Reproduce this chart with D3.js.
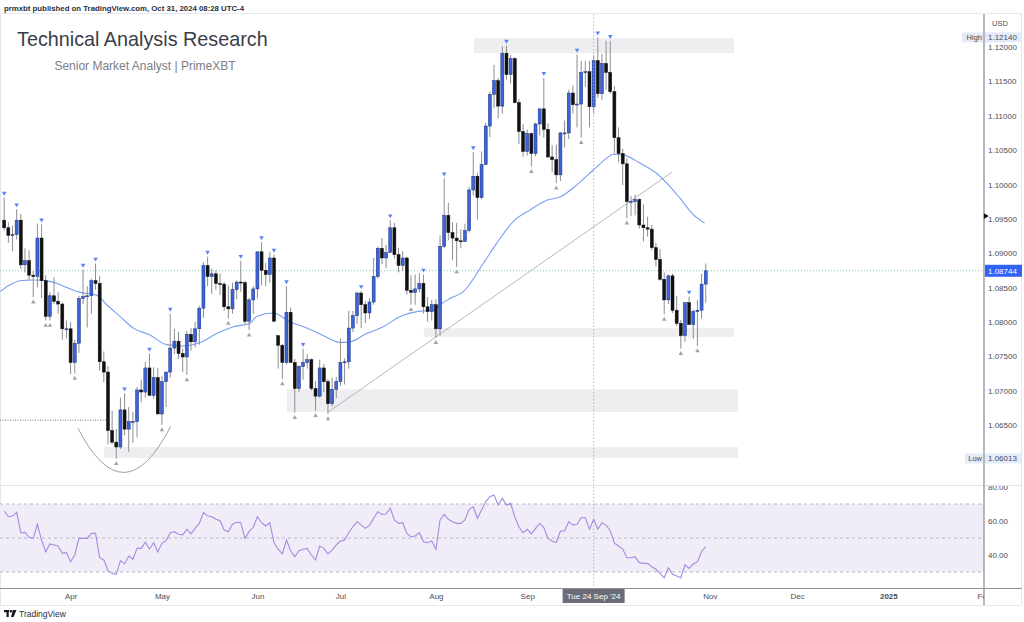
<!DOCTYPE html>
<html>
<head>
<meta charset="utf-8">
<script src="https://cdnjs.cloudflare.com/ajax/libs/d3/7.8.5/d3.min.js"></script>
<style>
  body { margin: 0; background: #fff; }
  svg { display: block; font-family: "Liberation Sans", Arial, sans-serif; }
</style>
</head>
<body>
<svg id="chart"></svg>
<script>
// EURUSD daily, Mar 8 - Oct 31 2024, [open, high, low, close], one row per bar index
const candles = [
  // Mar 8 - Mar 29 (0-15)
  [1.0948,1.0981,1.0933,1.0937],[1.0937,1.0945,1.0915,1.0926],[1.0926,1.0940,1.0903,1.0927],[1.0927,1.0964,1.0920,1.0948],
  [1.0948,1.0957,1.0877,1.0883],[1.0883,1.0907,1.0872,1.0889],[1.0889,1.0904,1.0860,1.0868],[1.0868,1.0874,1.0836,1.0866],
  [1.0866,1.0943,1.0850,1.0922],[1.0922,1.0942,1.0835,1.0860],[1.0860,1.0868,1.0802,1.0808],[1.0808,1.0843,1.0802,1.0838],
  [1.0838,1.0865,1.0826,1.0830],[1.0830,1.0843,1.0812,1.0826],[1.0826,1.0828,1.0774,1.0790],[1.0790,1.0802,1.0776,1.0790],
  // April (16-37)
  [1.0790,1.0800,1.0724,1.0741],[1.0741,1.0774,1.0725,1.0769],[1.0769,1.0838,1.0755,1.0834],[1.0834,1.0876,1.0826,1.0837],
  [1.0837,1.0852,1.0792,1.0838],[1.0838,1.0863,1.0812,1.0860],[1.0860,1.0885,1.0847,1.0856],[1.0856,1.0867,1.0729,1.0742],
  [1.0742,1.0757,1.0712,1.0727],[1.0727,1.0736,1.0622,1.0642],[1.0642,1.0671,1.0622,1.0625],[1.0625,1.0644,1.0601,1.0618],
  [1.0618,1.0690,1.0615,1.0672],[1.0672,1.0696,1.0635,1.0644],[1.0644,1.0676,1.0611,1.0655],[1.0655,1.0669,1.0624,1.0655],
  [1.0655,1.0705,1.0632,1.0701],[1.0701,1.0716,1.0683,1.0698],[1.0698,1.0742,1.0690,1.0733],[1.0733,1.0754,1.0694,1.0693],
  [1.0693,1.0734,1.0688,1.0719],[1.0719,1.0733,1.0666,1.0666],
  // May (38-60)
  [1.0666,1.0721,1.0650,1.0713],[1.0713,1.0728,1.0676,1.0727],[1.0727,1.0812,1.0719,1.0762],[1.0762,1.0790,1.0753,1.0772],
  [1.0772,1.0786,1.0746,1.0754],[1.0754,1.0761,1.0727,1.0749],[1.0749,1.0787,1.0723,1.0782],[1.0782,1.0791,1.0758,1.0771],
  [1.0771,1.0800,1.0763,1.0790],[1.0790,1.0823,1.0767,1.0820],[1.0820,1.0887,1.0806,1.0882],[1.0882,1.0895,1.0852,1.0866],
  [1.0866,1.0878,1.0841,1.0870],[1.0870,1.0875,1.0847,1.0856],[1.0856,1.0870,1.0839,1.0855],[1.0855,1.0858,1.0816,1.0822],
  [1.0822,1.0853,1.0805,1.0819],[1.0819,1.0857,1.0812,1.0847],[1.0847,1.0860,1.0833,1.0858],[1.0858,1.0889,1.0844,1.0857],
  [1.0857,1.0860,1.0797,1.0801],[1.0801,1.0835,1.0788,1.0832],[1.0832,1.0852,1.0812,1.0848],
  // June (61-80)
  [1.0848,1.0902,1.0834,1.0902],[1.0902,1.0916,1.0853,1.0875],[1.0875,1.0886,1.0852,1.0869],[1.0869,1.0902,1.0857,1.0893],
  [1.0893,1.0898,1.0801,1.0801],[1.0780,1.0780,1.0732,1.0766],[1.0766,1.0768,1.0717,1.0741],[1.0741,1.0852,1.0738,1.0814],
  [1.0814,1.0821,1.0743,1.0741],[1.0741,1.0746,1.0668,1.0703],[1.0703,1.0737,1.0698,1.0735],[1.0735,1.0761,1.0716,1.0741],
  [1.0741,1.0753,1.0732,1.0745],[1.0745,1.0747,1.0700,1.0703],[1.0703,1.0714,1.0671,1.0692],[1.0692,1.0745,1.0690,1.0733],
  [1.0733,1.0739,1.0698,1.0713],[1.0713,1.0717,1.0666,1.0681],[1.0681,1.0719,1.0677,1.0702],[1.0702,1.0720,1.0689,1.0713],
  // July (81-103)
  [1.0713,1.0776,1.0707,1.0741],[1.0741,1.0747,1.0709,1.0742],[1.0742,1.0816,1.0732,1.0791],[1.0791,1.0816,1.0785,1.0809],
  [1.0809,1.0844,1.0797,1.0842],[1.0842,1.0845,1.0791,1.0825],[1.0825,1.0830,1.0798,1.0813],[1.0813,1.0835,1.0804,1.0829],
  [1.0829,1.0893,1.0825,1.0866],[1.0866,1.0910,1.0863,1.0907],[1.0907,1.0922,1.0884,1.0893],[1.0893,1.0912,1.0878,1.0901],
  [1.0901,1.0948,1.0900,1.0937],[1.0937,1.0944,1.0892,1.0898],[1.0898,1.0908,1.0872,1.0882],[1.0882,1.0903,1.0874,1.0893],
  [1.0893,1.0895,1.0840,1.0846],[1.0846,1.0868,1.0825,1.0843],[1.0843,1.0869,1.0825,1.0848],[1.0848,1.0871,1.0843,1.0856],
  [1.0856,1.0869,1.0812,1.0822],[1.0822,1.0836,1.0800,1.0815],[1.0815,1.0832,1.0802,1.0825],
  // August (104-125)
  [1.0825,1.0833,1.0777,1.0790],[1.0790,1.0926,1.0780,1.0910],[1.0910,1.1009,1.0907,1.0955],[1.0955,1.0973,1.0919,1.0930],
  [1.0930,1.0945,1.0890,1.0922],[1.0922,1.0944,1.0880,1.0918],[1.0918,1.0935,1.0907,1.0917],[1.0917,1.0943,1.0917,1.0933],
  [1.0933,1.0996,1.0930,1.0992],[1.0992,1.1047,1.0984,1.1012],[1.1012,1.1017,1.0949,1.0981],[1.0981,1.1048,1.0978,1.1029],
  [1.1029,1.1090,1.1028,1.1085],[1.1085,1.1135,1.1069,1.1131],[1.1131,1.1174,1.1111,1.1151],[1.1151,1.1155,1.1096,1.1114],
  [1.1114,1.1201,1.1103,1.1191],[1.1191,1.1202,1.1153,1.1160],[1.1160,1.1188,1.1147,1.1183],[1.1183,1.1185,1.1118,1.1119],
  [1.1119,1.1124,1.1059,1.1077],[1.1077,1.1088,1.1040,1.1048],
  // September (126-146)
  [1.1048,1.1080,1.1042,1.1074],[1.1074,1.1076,1.1026,1.1045],[1.1045,1.1090,1.1041,1.1088],[1.1088,1.1110,1.1071,1.1110],
  [1.1110,1.1155,1.1068,1.1080],[1.1080,1.1089,1.1038,1.1040],[1.1040,1.1057,1.1018,1.1036],[1.1036,1.1058,1.1002,1.1014],
  [1.1014,1.1076,1.1005,1.1075],[1.1075,1.1093,1.1054,1.1075],[1.1075,1.1138,1.1066,1.1133],[1.1133,1.1144,1.1103,1.1116],
  [1.1116,1.1189,1.1083,1.1117],[1.1117,1.1180,1.1068,1.1163],[1.1163,1.1180,1.1142,1.1164],[1.1164,1.1180,1.1083,1.1113],
  [1.1113,1.1188,1.1103,1.1180],[1.1180,1.1214,1.1126,1.1132],[1.1132,1.1190,1.1123,1.1176],[1.1176,1.1209,1.1138,1.1163],
  [1.1163,1.1209,1.1132,1.1135],
  // October (147-169)
  [1.1135,1.1143,1.1045,1.1068],[1.1068,1.1083,1.1032,1.1045],[1.1045,1.1052,1.0999,1.1030],[1.1030,1.1038,1.0951,1.0975],
  [1.0975,1.0983,1.0954,1.0975],[1.0975,1.0985,1.0955,1.0978],[1.0978,1.0980,1.0936,1.0941],[1.0941,1.0971,1.0917,1.0937],
  [1.0937,1.0953,1.0924,1.0935],[1.0935,1.0941,1.0904,1.0908],[1.0908,1.0915,1.0881,1.0891],[1.0891,1.0906,1.0860,1.0862],
  [1.0862,1.0872,1.0811,1.0832],[1.0832,1.0869,1.0826,1.0867],[1.0867,1.0870,1.0813,1.0817],[1.0817,1.0838,1.0794,1.0798],
  [1.0798,1.0803,1.0761,1.0780],[1.0780,1.0828,1.0771,1.0828],[1.0828,1.0837,1.0803,1.0796],[1.0796,1.0818,1.0775,1.0815],
  [1.0815,1.0832,1.0765,1.0817],[1.0817,1.0870,1.0805,1.0855],[1.0855,1.0885,1.0828,1.08744]
];

// pivot markers (bar indices)
const pivotHighs = [0, 3, 9, 19, 22, 29, 35, 40, 49, 57, 62, 65, 68, 72, 86, 93, 101, 106, 113, 121, 130, 138, 143, 146, 165];
const pivotLows = [7, 10, 11, 17, 27, 38, 44, 54, 59, 67, 70, 75, 78, 98, 104, 109, 127, 133, 139, 150, 159, 163, 167];

// moving average: bar index / price
const maIdx = [-1.0, 1.4, 3.8, 6.9, 11.0, 15.1, 18.3, 22.3, 24.7, 27.9, 31.1, 35.1, 39.1, 43.1, 47.2, 51.2, 55.2, 59.2,
  60.8, 64.8, 68.9, 72.9, 76.9, 80.9, 83.3, 87.3, 91.3, 95.4, 99.4, 103.4, 105.0, 107.4, 110.6, 115.4, 118.6, 122.6,
  126.7, 130.7, 134.0, 137.9, 141.9, 145.1, 146.7, 149.1, 153.2, 157.2, 160.4, 162.8, 166.0, 168.7];
const maVal = [1.0844, 1.0854, 1.0860, 1.0861, 1.0859, 1.0850, 1.0843, 1.0839, 1.0825, 1.0808, 1.0791, 1.0781, 1.0767,
  1.0765, 1.0770, 1.0783, 1.0793, 1.0798, 1.0808, 1.0813, 1.0800, 1.0791, 1.0780, 1.0770, 1.0771, 1.0783, 1.0793,
  1.0808, 1.0815, 1.0817, 1.0825, 1.0834, 1.0844, 1.0885, 1.0914, 1.0946, 1.0963, 1.0977, 1.0982, 1.0999, 1.1021,
  1.1038, 1.1044, 1.1043, 1.1031, 1.1016, 1.0997, 1.0980, 1.0956, 1.0944];

// RSI per bar
const rsiVals = [65.9, 62.5, 62.9, 65.1, 53.1, 53.3, 50.4, 49.8, 58.1, 48.8, 41.9, 46.5, 45.9, 45.3, 41.0, 41.4,
  36.1, 40.0, 49.8, 49.8, 49.8, 52.7, 52.7, 38.4, 37.1, 30.8, 29.2, 28.6, 36.7, 34.7, 39.4, 37.5, 43.9, 43.9, 47.5, 43.5,
  47.2, 41.8, 46.9, 48.4, 53.1, 53.7, 52.2, 51.8, 55.1, 52.4, 55.7, 58.6, 65.1, 62.9, 62.5, 61.0, 60.2, 54.7, 53.7, 58.1,
  59.2, 59.0, 49.8, 53.7, 56.3, 62.5, 59.0, 57.1, 59.0, 47.2, 43.4, 40.6, 48.8, 42.5, 39.0, 42.5, 43.4, 43.9, 40.0, 37.1,
  45.3, 43.9, 40.6, 42.9, 45.9, 48.2, 48.8, 53.1, 56.6, 59.6, 57.6, 55.7, 57.6, 61.6, 65.5, 63.9, 64.1, 67.5, 60.6, 58.6,
  59.0, 52.7, 50.8, 51.2, 53.1, 47.8, 47.2, 48.2, 43.4, 60.6, 63.9, 61.0, 59.6, 58.6, 58.6, 60.6, 66.9, 68.4, 61.6, 66.5,
  71.4, 74.3, 75.3, 69.4, 73.4, 69.4, 70.4, 62.5, 56.6, 53.1, 55.1, 52.4, 55.7, 58.6, 56.1, 49.8, 48.2, 47.5, 54.1, 54.1,
  59.6, 57.6, 58.1, 61.9, 61.9, 55.1, 61.0, 55.3, 59.0, 57.6, 54.3, 46.9, 45.3, 43.5, 38.4, 38.4, 39.0, 35.5, 35.1, 35.1,
  33.1, 31.6, 29.2, 26.6, 32.5, 28.6, 27.6, 26.6, 34.1, 32.2, 34.7, 36.1, 41.9, 44.9];

// drawings: zones [fromIdx, toIdx, topPrice, bottomPrice]
const zones = [[113.2, 175.8, 1.1213, 1.1191], [101.1, 175.8, 1.0791, 1.0778], [68.1, 176.8, 1.0702, 1.0669], [24.0, 176.8, 1.0618, 1.0602]];
const trendLine = [[78.1, 1.0669], [160.9, 1.1018]];
const dottedLevel = [[-1.01, 1.0657], [24.8, 1.0657]];
const arcPts = [[17.8, 1.0645], [28.9, 1.0581], [40.1, 1.0648]];

const priceTicks = [1.12, 1.115, 1.11, 1.105, 1.10, 1.095, 1.09, 1.085, 1.08, 1.075, 1.07, 1.065];
const rsiTicks = [40, 60, 80];
const rsiLevels = [70, 50, 30];
// the October label sits under the crosshair date label, so it is not shown
const monthIdx = [16, 38, 61, 81, 104, 126, 170, 191, 213, 236];
const monthLabels = ["Apr", "May", "Jun", "Jul", "Aug", "Sep", "Nov", "Dec", "2025", "Feb"];

const lastPrice = 1.08744, highPrice = 1.12140, lowPrice = 1.06013, maLast = 1.0954;
const crossIdx = 142;

const width = 1024, height = 622;
const axisX = 984;

const svg = d3.select('#chart').attr('width', width).attr('height', height);

const xScale = d3.scaleLinear().domain([0, 236]).range([4.2, 4.2 + 236 * 4.151]);
const yPrice = d3.scaleLinear().domain([1.065, 1.12]).range([425, 47]);
const yRsi = d3.scaleLinear().domain([30, 70]).range([572, 504]);

const defs = svg.append('defs');
defs.append('clipPath').attr('id', 'pricePane').append('rect').attr('x', 0).attr('y', 14).attr('width', axisX).attr('height', 471);
defs.append('clipPath').attr('id', 'rsiPane').append('rect').attr('x', 0).attr('y', 486).attr('width', axisX).attr('height', 102);
defs.append('clipPath').attr('id', 'rsiAxis').append('rect').attr('x', axisX).attr('y', 486).attr('width', 40).attr('height', 102);
defs.append('clipPath').attr('id', 'timeAxis').append('rect').attr('x', 0).attr('y', 588).attr('width', axisX).attr('height', 18);

// header
svg.append('text').attr('x', 4).attr('y', 10.5).attr('font-size', 7.8).attr('font-weight', 600).attr('fill', '#2a2e39')
  .text('prmxbt published on TradingView.com, Oct 31, 2024 08:28 UTC-4');

// frame
svg.append('rect').attr('x', 0.5).attr('y', 13.5).attr('width', 1021).attr('height', 592)
  .attr('fill', 'none').attr('stroke', '#e6e8ee');

// ---------- price pane ----------
const pane = svg.append('g').attr('clip-path', 'url(#pricePane)');

pane.selectAll('.zone').data(zones).enter().append('rect')
  .attr('x', d => xScale(d[0])).attr('width', d => xScale(d[1]) - xScale(d[0]))
  .attr('y', d => yPrice(d[2])).attr('height', d => yPrice(d[3]) - yPrice(d[2]))
  .attr('fill', '#eeeef1');

pane.append('line')
  .attr('x1', xScale(dottedLevel[0][0])).attr('x2', xScale(dottedLevel[1][0]))
  .attr('y1', yPrice(dottedLevel[0][1])).attr('y2', yPrice(dottedLevel[1][1]))
  .attr('stroke', '#555').attr('stroke-width', 0.8).attr('stroke-dasharray', '1,1.5');

// rounded bottom arc
const a0 = [xScale(arcPts[0][0]), yPrice(arcPts[0][1])];
const a1 = [xScale(arcPts[1][0]), yPrice(arcPts[1][1])];
const a2 = [xScale(arcPts[2][0]), yPrice(arcPts[2][1])];
const ctrl = [2 * a1[0] - (a0[0] + a2[0]) / 2, 2 * a1[1] - (a0[1] + a2[1]) / 2];
const arcPath = d3.path();
arcPath.moveTo(a0[0], a0[1]);
arcPath.quadraticCurveTo(ctrl[0], ctrl[1], a2[0], a2[1]);
pane.append('path').attr('d', arcPath.toString()).attr('fill', 'none').attr('stroke', '#85878e').attr('stroke-width', 0.8);

pane.append('line')
  .attr('x1', xScale(trendLine[0][0])).attr('y1', yPrice(trendLine[0][1]))
  .attr('x2', xScale(trendLine[1][0])).attr('y2', yPrice(trendLine[1][1]))
  .attr('stroke', '#a3a5ab').attr('stroke-width', 0.8);

// last price line
pane.append('line').attr('x1', 0).attr('x2', axisX).attr('y1', yPrice(lastPrice)).attr('y2', yPrice(lastPrice))
  .attr('stroke', '#7cc2b4').attr('stroke-width', 1).attr('stroke-dasharray', '1,2');

// moving average
const maLine = d3.line().x((d, i) => xScale(maIdx[i])).y(d => yPrice(d)).curve(d3.curveMonotoneX);
pane.append('path').datum(maVal).attr('d', maLine)
  .attr('fill', 'none').attr('stroke', '#7a9df2').attr('stroke-width', 1.1);

// candles
pane.selectAll('.wick').data(candles).enter().append('line')
  .attr('x1', (d, i) => xScale(i)).attr('x2', (d, i) => xScale(i))
  .attr('y1', d => yPrice(d[1])).attr('y2', d => yPrice(d[2]))
  .attr('stroke', '#8c8e95').attr('stroke-width', 1);

pane.selectAll('.body').data(candles).enter().append('rect')
  .attr('x', (d, i) => xScale(i) - 1.5).attr('width', 3)
  .attr('y', d => yPrice(Math.max(d[0], d[3])))
  .attr('height', d => Math.max(1, yPrice(Math.min(d[0], d[3])) - yPrice(Math.max(d[0], d[3]))))
  .attr('fill', d => d[3] >= d[0] ? '#3b63dc' : '#111')
  .attr('stroke', d => d[3] >= d[0] ? '#1d2f7a' : '#111').attr('stroke-width', 0.5);

// pivot markers
const triDown = d3.symbol().type(d3.symbolTriangle).size(9);
pane.selectAll('.phigh').data(pivotHighs).enter().append('path')
  .attr('d', triDown)
  .attr('transform', i => `translate(${xScale(i)},${yPrice(candles[i][1]) - 4.5}) rotate(180)`)
  .attr('fill', '#5a82f0');
pane.selectAll('.plow').data(pivotLows).enter().append('path')
  .attr('d', triDown)
  .attr('transform', i => `translate(${xScale(i)},${yPrice(candles[i][2]) + 5})`)
  .attr('fill', '#a2a4ab');

// title block
svg.append('text').attr('x', 17).attr('y', 46).attr('font-size', 19.8).attr('fill', '#3a3d46')
  .text('Technical Analysis Research');
svg.append('text').attr('x', 145).attr('y', 70).attr('text-anchor', 'middle').attr('font-size', 12).attr('fill', '#7b7e86')
  .text('Senior Market Analyst | PrimeXBT');

// ---------- RSI pane ----------
svg.append('line').attr('x1', 0).attr('x2', 1022).attr('y1', 485.5).attr('y2', 485.5).attr('stroke', '#e0e3eb');
const rsiPane = svg.append('g').attr('clip-path', 'url(#rsiPane)');
rsiPane.append('rect').attr('x', 0).attr('width', axisX)
  .attr('y', yRsi(70)).attr('height', yRsi(30) - yRsi(70)).attr('fill', '#f0edf8');
rsiPane.selectAll('.lvl').data(rsiLevels).enter().append('line')
  .attr('x1', 0).attr('x2', axisX).attr('y1', d => yRsi(d)).attr('y2', d => yRsi(d))
  .attr('stroke', '#a9abb3').attr('stroke-width', 0.8).attr('stroke-dasharray', '3,3');
const rsiLine = d3.line().x((d, i) => xScale(i)).y(d => yRsi(d));
rsiPane.append('path').datum(rsiVals).attr('d', rsiLine)
  .attr('fill', 'none').attr('stroke', '#a48be0').attr('stroke-width', 1.1);

// ---------- crosshair ----------
svg.append('line').attr('x1', xScale(crossIdx)).attr('x2', xScale(crossIdx)).attr('y1', 14).attr('y2', 588)
  .attr('stroke', '#a8abb3').attr('stroke-width', 0.8).attr('stroke-dasharray', '1.5,2');

// ---------- axes ----------
const priceAxis = svg.append('g').attr('transform', `translate(${axisX},0)`)
  .call(d3.axisRight(yPrice).tickValues(priceTicks).tickFormat(d3.format('.5f')).tickSize(0).tickPadding(4));
priceAxis.select('.domain').remove();
priceAxis.selectAll('text').attr('font-size', 8).attr('fill', '#4a4d57').attr('font-family', '"Liberation Sans", Arial, sans-serif');

const rsiAxis = svg.append('g').attr('clip-path', 'url(#rsiAxis)').append('g').attr('transform', `translate(${axisX},0)`)
  .call(d3.axisRight(yRsi).tickValues(rsiTicks).tickFormat(d3.format('.2f')).tickSize(0).tickPadding(4));
rsiAxis.select('.domain').remove();
rsiAxis.selectAll('text').attr('font-size', 8).attr('fill', '#4a4d57').attr('font-family', '"Liberation Sans", Arial, sans-serif');

svg.append('text').attr('x', 992).attr('y', 26).attr('font-size', 7.5).attr('fill', '#4a4d57').text('USD');

// time axis
svg.append('line').attr('x1', 0).attr('x2', 1022).attr('y1', 588.5).attr('y2', 588.5).attr('stroke', '#8f9199').attr('stroke-width', 1);
const timeAxis = svg.append('g').attr('clip-path', 'url(#timeAxis)').append('g').attr('transform', 'translate(0,588)')
  .call(d3.axisBottom(xScale).tickValues(monthIdx).tickFormat((d, i) => monthLabels[i]).tickSize(0).tickPadding(5));
timeAxis.select('.domain').remove();
timeAxis.selectAll('text').attr('font-size', 8).attr('fill', '#4a4d57').attr('font-family', '"Liberation Sans", Arial, sans-serif')
  .attr('font-weight', (d, i) => monthLabels[i] === '2025' ? 700 : 400);

// crosshair date label
const cx = xScale(crossIdx);
svg.append('rect').attr('x', cx - 31).attr('y', 589).attr('width', 62).attr('height', 14).attr('fill', '#6a6d78');
svg.append('text').attr('x', cx).attr('y', 599).attr('text-anchor', 'middle').attr('font-size', 8).attr('fill', '#fff')
  .text("Tue 24 Sep '24");

// vertical axis separator
svg.append('line').attr('x1', axisX).attr('x2', axisX).attr('y1', 14).attr('y2', 605)
  .attr('stroke', '#8f9199').attr('stroke-width', 1.3);

// high / low labels
[[highPrice, 'High'], [lowPrice, 'Low']].forEach(([p, lab]) => {
  const y = yPrice(p);
  svg.append('rect').attr('x', lab === 'High' ? 962 : 965).attr('y', y - 5).attr('width', lab === 'High' ? 21 : 18).attr('height', 10).attr('fill', '#e3ebfa');
  svg.append('rect').attr('x', axisX + 1).attr('y', y - 5).attr('width', 36).attr('height', 10).attr('fill', '#e3ebfa');
  svg.append('text').attr('x', axisX - 2).attr('y', y + 3).attr('text-anchor', 'end').attr('font-size', 7.5).attr('fill', '#4a4d57').text(lab);
  svg.append('text').attr('x', axisX + 4).attr('y', y + 3).attr('font-size', 8).attr('fill', '#4a4d57').text(d3.format('.5f')(p));
});

// last price label
svg.append('rect').attr('x', axisX + 1).attr('y', yPrice(lastPrice) - 6).attr('width', 37).attr('height', 12).attr('fill', '#2f62f5');
svg.append('text').attr('x', axisX + 4).attr('y', yPrice(lastPrice) + 3).attr('font-size', 8).attr('fill', '#fff').text(d3.format('.5f')(lastPrice));

// MA value arrow on axis
svg.append('path').attr('d', d3.symbol().type(d3.symbolTriangle).size(14))
  .attr('transform', `translate(${axisX + 1.5},${yPrice(maLast)}) rotate(90)`).attr('fill', '#111');

// footer logo
const logo = svg.append('g').attr('transform', 'translate(4,610)');
logo.append('rect').attr('x', 0).attr('y', 0).attr('width', 5).attr('height', 2.2).attr('fill', '#131722');
logo.append('rect').attr('x', 2.5).attr('y', 0).attr('width', 2.2).attr('height', 7).attr('fill', '#131722');
logo.append('circle').attr('cx', 7).attr('cy', 1.3).attr('r', 1.3).attr('fill', '#131722');
logo.append('path').attr('d', 'M9,0 L12.5,0 L9.5,7 L7,7 Z').attr('fill', '#131722');
svg.append('text').attr('x', 19).attr('y', 617).attr('font-size', 8.5).attr('fill', '#2a2e39').text('TradingView');
</script>
</body>
</html>
